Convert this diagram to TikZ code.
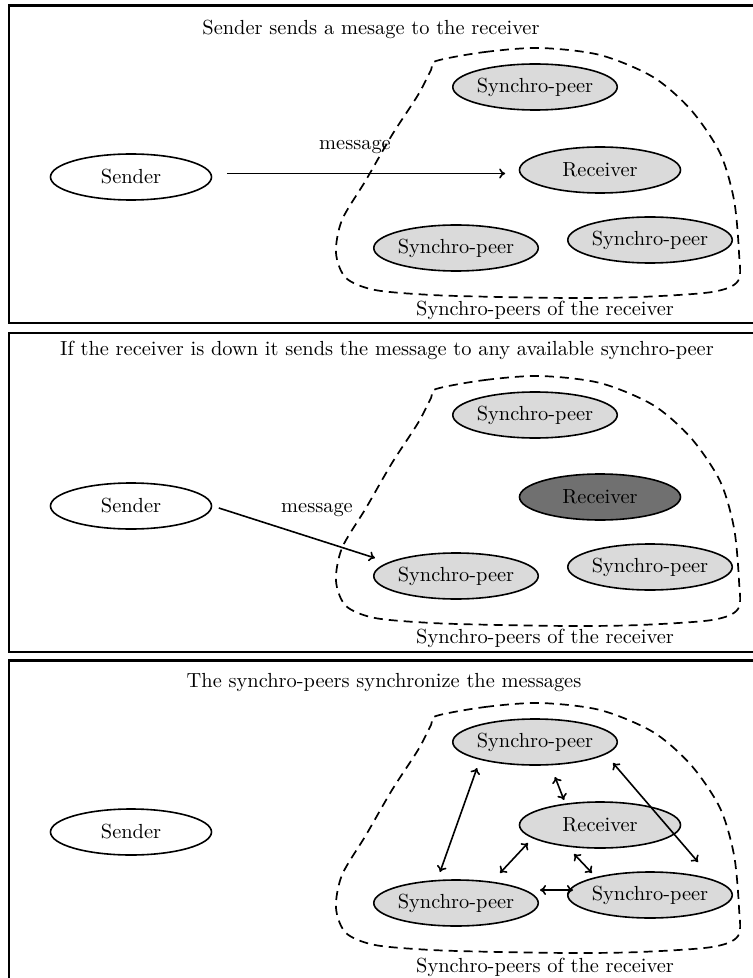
\documentclass[tikz,border=0pt]{standalone}
\usetikzlibrary{shapes.geometric,arrows.meta,calc}
\definecolor{peerfill}{RGB}{218,218,218}
\definecolor{downfill}{RGB}{112,112,112}
\begin{document}
\begin{tikzpicture}[x=0.5pt,y=-0.5pt,
  txt/.style={font=\fontsize{10.2}{12}\selectfont,inner sep=0pt},
  oval/.style={ellipse,draw,line width=0.8pt,minimum width=80.5pt,minimum height=23pt,inner sep=0pt,font=\fontsize{10.2}{12}\selectfont},
  peer/.style={oval,fill=peerfill},
  downpeer/.style={oval,fill=downfill},
  sendernode/.style={oval,fill=white},
  frame/.style={draw,line width=1.2pt},
  blob/.style={draw,line width=0.85pt,dash pattern=on 4.5pt off 3pt},
  msg/.style={line width=0.8pt,-{To[length=3pt,width=5pt]}},
  sync/.style={line width=0.8pt,{To[length=3pt,width=5pt]}-{To[length=3pt,width=5pt]}}]
\useasboundingbox (0,0) rectangle (753,978);
% frames
\draw[frame] (9,5.5) rectangle (775,323);
\draw[frame] (9,333) rectangle (775,652);
\draw[frame] (9,660.5) rectangle (775,995);
% blobs
\foreach \dy in {0,328,655}{
\begin{scope}[shift={(0,\dy)}]
\draw[blob] plot[smooth cycle,tension=0.5] coordinates {
(436,61) (485,52) (540,48) (600,55) (653,77) (691,110) (720,153) (734,200) (739,253) (738,281)
(712,292) (640,297) (576,298) (500,297) (432,295) (375,290) (346,278) (336,253) (342,220)
(366,180) (392,135) (418,95) (431,70)};
\end{scope}}
% ---------- panel 1
\node[txt] (title1) at (371,29) {Sender sends a mesage to the receiver};
\node[sendernode] (s1) at (131,177) {Sender};
\node[peer] (t1) at (535,87) {Synchro-peer};
\node[peer] (r1) at (600,170) {Receiver};
\node[peer] (l1) at (456,248) {Synchro-peer};
\node[peer] (b1) at (650,240) {Synchro-peer};
\node[txt] (m1) at (355,147) {message};
\node[txt] (g1) at (545,310) {Synchro-peers of the receiver};
\draw[msg] ($(s1.east)+(14.5,-3.5)$) -- ($(r1.west)+(-13.5,3.5)$);
% ---------- panel 2
\node[txt] (title2) at (387,350) {If the receiver is down it sends the message to any available synchro-peer};
\node[sendernode] (s2) at (131,506) {Sender};
\node[peer] (t2) at (535,415) {Synchro-peer};
\node[downpeer] (r2) at (600,497) {Receiver};
\node[peer] (l2) at (456,576) {Synchro-peer};
\node[peer] (b2) at (650,567) {Synchro-peer};
\node[txt] (m2) at (317,510) {message};
\node[txt] (g2) at (545,638) {Synchro-peers of the receiver};
\draw[msg] ($(s2.east)+(6.5,2)$) -- ($(l2.west)+(2,-18)$);
% ---------- panel 3
\node[txt] (title3) at (384,683) {The synchro-peers synchronize the messages};
\node[sendernode] (s3) at (131,832) {Sender};
\node[peer] (t3) at (535,742) {Synchro-peer};
\node[peer] (r3) at (600,825) {Receiver};
\node[peer] (l3) at (456,903) {Synchro-peer};
\node[peer] (b3) at (650,895) {Synchro-peer};
\node[txt] (g3) at (545,967) {Synchro-peers of the receiver};
\draw[sync] ($(t3)+(-58,26)$) -- ($(l3)+(-16,-31)$);
\draw[sync] ($(t3)+(20,35)$) -- ($(r3)+(-36,-25)$);
\draw[sync] ($(t3)+(78,21)$) -- ($(b3)+(48,-33)$);
\draw[sync] ($(r3)+(-72,18)$) -- ($(l3)+(44,-30)$);
\draw[sync] ($(r3)+(-26,29)$) -- ($(b3)+(-58,-22)$);
\draw[sync] ($(l3)+(84,-13)$) -- ($(b3)+(-77,-5)$);
\end{tikzpicture}
\end{document}
